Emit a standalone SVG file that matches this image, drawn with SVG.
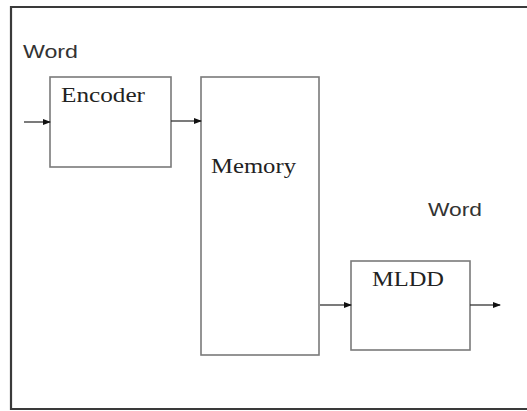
<svg xmlns="http://www.w3.org/2000/svg" width="527" height="411" viewBox="0 0 527 411">
<defs>
<style>
.box{fill:#fff;stroke:#7a7a7a;stroke-width:1.6}
.frame{fill:none;stroke:#3a3a3a;stroke-width:2.2}
.serif{font-family:"Liberation Serif","Times New Roman",serif;font-size:20px;fill:#222}
.sans{font-family:"Liberation Sans",Arial,sans-serif;font-size:18px;fill:#333}
.conn{stroke:#333;stroke-width:1.3;fill:none;marker-end:url(#arr)}
</style>
<marker id="arr" markerWidth="8" markerHeight="6" refX="7" refY="3" orient="auto" markerUnits="userSpaceOnUse">
<path d="M0,0 L8,3 L0,6 Z" fill="#111"/>
</marker>
</defs>
<rect width="527" height="411" fill="#fff"/>
<path class="frame" d="M530,7 H11 V409 H530"/>
<text class="sans" x="23" y="58" textLength="55" lengthAdjust="spacingAndGlyphs">Word</text>
<text class="sans" x="428" y="216" textLength="54" lengthAdjust="spacingAndGlyphs">Word</text>
<g id="encoder">
<rect class="box" x="50" y="77" width="121" height="90"/>
<text class="serif" x="61" y="102" textLength="84" lengthAdjust="spacingAndGlyphs">Encoder</text>
</g>
<g id="memory">
<rect class="box" x="201" y="77" width="118" height="278"/>
<text class="serif" x="211" y="173" textLength="85" lengthAdjust="spacingAndGlyphs">Memory</text>
</g>
<g id="mldd">
<rect class="box" x="351" y="261" width="119" height="89"/>
<text class="serif" x="372" y="286" textLength="72" lengthAdjust="spacingAndGlyphs">MLDD</text>
</g>
<g id="connectors">
<line class="conn" x1="24" y1="122" x2="50" y2="122"/>
<line class="conn" x1="171" y1="121" x2="201" y2="121"/>
<line class="conn" x1="320" y1="305" x2="351" y2="305"/>
<line class="conn" x1="470" y1="305" x2="500" y2="305"/>
</g>
</svg>
